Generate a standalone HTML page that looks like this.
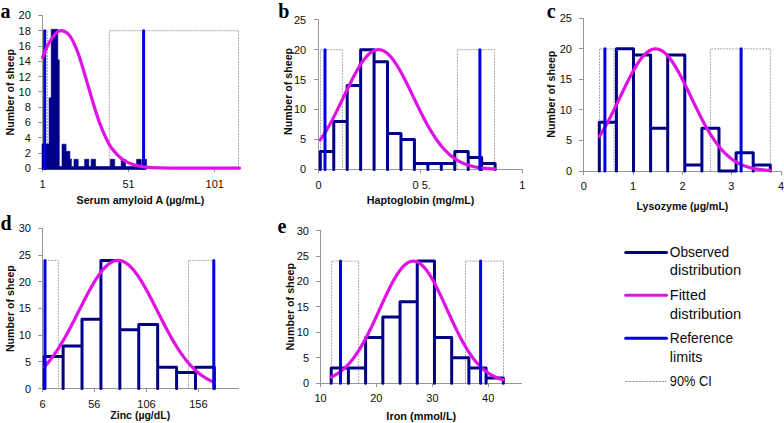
<!DOCTYPE html>
<html><head><meta charset="utf-8"><style>
html,body{margin:0;padding:0;background:#fff;}
body{width:784px;height:423px;overflow:hidden;}
svg{display:block;}
.t{font-family:"Liberation Sans",sans-serif;font-size:11px;fill:#0d0d0d;}
.b{font-family:"Liberation Sans",sans-serif;font-size:10.5px;font-weight:bold;fill:#0d0d0d;}
.g{font-family:"Liberation Sans",sans-serif;font-size:13.8px;fill:#0d0d0d;}
.L{font-family:"Liberation Serif",serif;font-size:20px;font-weight:bold;fill:#000;}
</style></head><body>
<svg width="784" height="423" viewBox="0 0 784 423">
<rect width="784" height="423" fill="#fff"/>
<text x="0.6" y="17.7" class="L">a</text>
<path d="M44.5,168.5 V30.71 H47.4 V168.5" fill="none" stroke="#a8a8a8" stroke-width="1" stroke-dasharray="2 1"/>
<path d="M109.3,168.5 V30.71 H238.5 V168.5" fill="none" stroke="#a8a8a8" stroke-width="1" stroke-dasharray="2 1"/>
<path d="M42.5,15 V172" stroke="#969696" stroke-width="1" fill="none"/>
<path d="M38,168.5 H240" stroke="#969696" stroke-width="1" fill="none"/>
<path d="M38,168.5 H42.5" stroke="#969696" stroke-width="1" fill="none"/>
<text x="30.8" y="172.4" text-anchor="end" class="t">0</text>
<path d="M38,153.5 H42.5" stroke="#969696" stroke-width="1" fill="none"/>
<text x="30.8" y="157.09" text-anchor="end" class="t">2</text>
<path d="M38,137.5 H42.5" stroke="#969696" stroke-width="1" fill="none"/>
<text x="30.8" y="141.78" text-anchor="end" class="t">4</text>
<path d="M38,122.5 H42.5" stroke="#969696" stroke-width="1" fill="none"/>
<text x="30.8" y="126.47" text-anchor="end" class="t">6</text>
<path d="M38,107.5 H42.5" stroke="#969696" stroke-width="1" fill="none"/>
<text x="30.8" y="111.16" text-anchor="end" class="t">8</text>
<path d="M38,91.5 H42.5" stroke="#969696" stroke-width="1" fill="none"/>
<text x="30.8" y="95.85" text-anchor="end" class="t">10</text>
<path d="M38,76.5 H42.5" stroke="#969696" stroke-width="1" fill="none"/>
<text x="30.8" y="80.54" text-anchor="end" class="t">12</text>
<path d="M38,61.5 H42.5" stroke="#969696" stroke-width="1" fill="none"/>
<text x="30.8" y="65.23" text-anchor="end" class="t">14</text>
<path d="M38,46.5 H42.5" stroke="#969696" stroke-width="1" fill="none"/>
<text x="30.8" y="49.92" text-anchor="end" class="t">16</text>
<path d="M38,30.5 H42.5" stroke="#969696" stroke-width="1" fill="none"/>
<text x="30.8" y="34.61" text-anchor="end" class="t">18</text>
<path d="M38,15.5 H42.5" stroke="#969696" stroke-width="1" fill="none"/>
<text x="30.8" y="19.3" text-anchor="end" class="t">20</text>
<path d="M42.5,168.5 V172" stroke="#969696" stroke-width="1" fill="none"/>
<text x="42.5" y="188" text-anchor="middle" class="t">1</text>
<path d="M128.5,168.5 V172" stroke="#969696" stroke-width="1" fill="none"/>
<text x="128.5" y="188" text-anchor="middle" class="t">51</text>
<path d="M214.5,168.5 V172" stroke="#969696" stroke-width="1" fill="none"/>
<text x="214.7" y="188" text-anchor="middle" class="t">101</text>
<text transform="translate(14.3,92.2) rotate(-90)" x="0" y="0" text-anchor="middle" class="b" textLength="86.4" lengthAdjust="spacingAndGlyphs">Number of sheep</text>
<text x="140.45" y="204.3" text-anchor="middle" class="b" textLength="127.7" lengthAdjust="spacingAndGlyphs">Serum amyloid A (&#181;g/mL)</text>
<path d="M42,169.5 L42,143.9 L49.1,143.9 L49.1,97.8 L51.2,97.8 L51.2,29.3 L57.8,29.3 L57.8,59.8 L59.3,59.8 L59.3,166.5 L62,166.5 L62,144.2 L66.1,144.2 L66.1,151.3 L69.9,151.3 L69.9,158.9 L71.4,158.9 L71.4,166.5 L74,166.5 L74,159.3 L78.2,159.3 L78.2,166.5 L84.6,166.5 L84.6,159.3 L88.8,159.3 L88.8,166.5 L91.1,166.5 L91.1,159.3 L95.6,159.3 L95.6,166.5 L110.3,166.5 L110.3,159.3 L114.7,159.3 L114.7,166.5 L121.2,166.5 L121.2,159.3 L125.5,159.3 L125.5,166.5 L136.6,166.5 L136.6,159.3 L141.2,159.3 L141.2,166.5 L142,166.5 L142,159.3 L146.5,159.3 L146.5,169.5 Z" fill="#000086" stroke="#000086" stroke-width="0.6" stroke-linejoin="round"/>
<line x1="44.7" y1="30.71" x2="44.7" y2="168.5" stroke="#0000e0" stroke-width="3" stroke-linecap="round"/>
<line x1="143.6" y1="30.71" x2="143.6" y2="168.5" stroke="#0000e0" stroke-width="3" stroke-linecap="round"/>
<path d="M42.5,57.5 C43.47,55.28 46.23,48.07 48.3,44.2 C50.37,40.33 52.7,36.57 54.9,34.3 C57.1,32.03 59.02,30.33 61.5,30.6 C63.98,30.87 67.03,32.12 69.8,35.9 C72.57,39.68 75.33,45.95 78.1,53.3 C80.87,60.65 83.95,71.92 86.4,80 C88.85,88.08 90.68,94.88 92.8,101.8 C94.92,108.72 96.98,115.63 99.1,121.5 C101.22,127.37 103.37,132.5 105.5,137 C107.63,141.5 109.05,144.75 111.9,148.5 C114.75,152.25 119.05,156.82 122.6,159.5 C126.15,162.18 129.67,163.37 133.2,164.6 C136.73,165.83 139.33,166.35 143.8,166.9 C148.27,167.45 150.63,167.7 160,167.9 C169.37,168.1 186.75,168.07 200,168.1 C213.25,168.13 232.92,168.1 239.5,168.1" fill="none" stroke="#e010e6" stroke-width="3.2" stroke-linecap="round" stroke-linejoin="round"/>
<text x="278.2" y="17.7" class="L">b</text>
<path d="M320.6,169.45 V49.65 H342.4 V169.45" fill="none" stroke="#a8a8a8" stroke-width="1" stroke-dasharray="2 1"/>
<path d="M457.4,169.45 V49.65 H494.5 V169.45" fill="none" stroke="#a8a8a8" stroke-width="1" stroke-dasharray="2 1"/>
<path d="M318.5,19 V173" stroke="#969696" stroke-width="1" fill="none"/>
<path d="M314,169.5 H523" stroke="#969696" stroke-width="1" fill="none"/>
<path d="M314,169.5 H318.5" stroke="#969696" stroke-width="1" fill="none"/>
<text x="306.2" y="173.35" text-anchor="end" class="t">0</text>
<path d="M314,139.5 H318.5" stroke="#969696" stroke-width="1" fill="none"/>
<text x="306.2" y="143.4" text-anchor="end" class="t">5</text>
<path d="M314,109.5 H318.5" stroke="#969696" stroke-width="1" fill="none"/>
<text x="306.2" y="113.45" text-anchor="end" class="t">10</text>
<path d="M314,79.5 H318.5" stroke="#969696" stroke-width="1" fill="none"/>
<text x="306.2" y="83.5" text-anchor="end" class="t">15</text>
<path d="M314,49.5 H318.5" stroke="#969696" stroke-width="1" fill="none"/>
<text x="306.2" y="53.55" text-anchor="end" class="t">20</text>
<path d="M314,19.5 H318.5" stroke="#969696" stroke-width="1" fill="none"/>
<text x="306.2" y="23.6" text-anchor="end" class="t">25</text>
<path d="M318.5,169.5 V173" stroke="#969696" stroke-width="1" fill="none"/>
<text x="318.5" y="188.6" text-anchor="middle" class="t">0</text>
<path d="M522.5,169.5 V173" stroke="#969696" stroke-width="1" fill="none"/>
<text x="522.4" y="188.6" text-anchor="middle" class="t">1</text>
<path d="M420.5,169.5 V173" stroke="#969696" fill="none"/>
<text x="421.8" y="188.6" text-anchor="middle" class="t">0 5.</text>
<text transform="translate(291.5,91.4) rotate(-90)" x="0" y="0" text-anchor="middle" class="b" textLength="87" lengthAdjust="spacingAndGlyphs">Number of sheep</text>
<text x="420.6" y="204.2" text-anchor="middle" class="b" textLength="107.7" lengthAdjust="spacingAndGlyphs">Haptoglobin (mg/mL)</text>
<path d="M320.3,169.45 V151.48 H333.75 V169.45 M333.75,169.45 V121.53 H347.19 V169.45 M347.19,169.45 V85.59 H360.64 V169.45 M360.64,169.45 V49.65 H374.08 V169.45 M374.08,169.45 V61.63 H387.53 V169.45 M387.53,169.45 V133.51 H400.98 V169.45 M400.98,169.45 V139.5 H414.42 V169.45 M414.42,169.45 V163.46 H427.87 V169.45 M427.87,169.45 V163.46 H441.32 V169.45 M441.32,169.45 V163.46 H454.76 V169.45 M454.76,169.45 V151.48 H468.21 V169.45 M468.21,169.45 V157.47 H481.65 V169.45 M481.65,169.45 V163.46 H495.1 V169.45 " fill="none" stroke="#000086" stroke-width="3" stroke-linejoin="round" stroke-linecap="round"/>
<path d="M320.3,139.86 L321.79,137.69 L323.29,135.42 L324.78,133.05 L326.28,130.6 L327.77,128.05 L329.26,125.42 L330.76,122.7 L332.25,119.91 L333.75,117.05 L335.24,114.13 L336.73,111.15 L338.23,108.12 L339.72,105.06 L341.22,101.97 L342.71,98.85 L344.2,95.73 L345.7,92.62 L347.19,89.52 L348.69,86.45 L350.18,83.42 L351.67,80.44 L353.17,77.53 L354.66,74.7 L356.16,71.96 L357.65,69.33 L359.14,66.82 L360.64,64.43 L362.13,62.19 L363.63,60.11 L365.12,58.18 L366.61,56.44 L368.11,54.87 L369.6,53.5 L371.1,52.33 L372.59,51.36 L374.08,50.61 L375.58,50.07 L377.07,49.75 L378.57,49.65 L380.06,49.77 L381.55,50.11 L383.05,50.67 L384.54,51.44 L386.04,52.43 L387.53,53.62 L389.02,55.01 L390.52,56.59 L392.01,58.35 L393.51,60.29 L395,62.39 L396.49,64.64 L397.99,67.04 L399.48,69.56 L400.98,72.2 L402.47,74.95 L403.96,77.79 L405.46,80.71 L406.95,83.69 L408.45,86.72 L409.94,89.8 L411.44,92.9 L412.93,96.01 L414.42,99.13 L415.92,102.24 L417.41,105.33 L418.91,108.39 L420.4,111.42 L421.89,114.39 L423.39,117.31 L424.88,120.16 L426.38,122.95 L427.87,125.65 L429.36,128.28 L430.86,130.82 L432.35,133.27 L433.85,135.63 L435.34,137.89 L436.83,140.05 L438.33,142.12 L439.82,144.09 L441.32,145.96 L442.81,147.73 L444.3,149.4 L445.8,150.98 L447.29,152.47 L448.79,153.87 L450.28,155.17 L451.77,156.4 L453.27,157.53 L454.76,158.59 L456.26,159.58 L457.75,160.49 L459.24,161.33 L460.74,162.11 L462.23,162.82 L463.73,163.48 L465.22,164.08 L466.71,164.63 L468.21,165.13 L469.7,165.59 L471.2,166 L472.69,166.38 L474.18,166.72 L475.68,167.02 L477.17,167.3 L478.67,167.55 L480.16,167.77 L481.65,167.97 L483.15,168.15 L484.64,168.31 L486.14,168.45 L487.63,168.57 L489.12,168.68 L490.62,168.78 L492.11,168.87 L493.61,168.95 L495.1,169.01" fill="none" stroke="#e010e6" stroke-width="3.2" stroke-linecap="round" stroke-linejoin="round"/>
<line x1="325" y1="49.65" x2="325" y2="169.45" stroke="#0000e0" stroke-width="3" stroke-linecap="round"/>
<line x1="479.9" y1="49.65" x2="479.9" y2="169.45" stroke="#0000e0" stroke-width="3" stroke-linecap="round"/>
<text x="546.7" y="17.8" class="L">c</text>
<path d="M599.5,171.1 V48.86 H614.1 V171.1" fill="none" stroke="#a8a8a8" stroke-width="1" stroke-dasharray="2 1"/>
<path d="M710.4,171.1 V48.86 H770.3 V171.1" fill="none" stroke="#a8a8a8" stroke-width="1" stroke-dasharray="2 1"/>
<path d="M583.5,18 V175" stroke="#969696" stroke-width="1" fill="none"/>
<path d="M579,171.5 H782" stroke="#969696" stroke-width="1" fill="none"/>
<path d="M579,171.5 H583.5" stroke="#969696" stroke-width="1" fill="none"/>
<text x="572" y="175" text-anchor="end" class="t">0</text>
<path d="M579,140.5 H583.5" stroke="#969696" stroke-width="1" fill="none"/>
<text x="572" y="144.44" text-anchor="end" class="t">5</text>
<path d="M579,109.5 H583.5" stroke="#969696" stroke-width="1" fill="none"/>
<text x="572" y="113.88" text-anchor="end" class="t">10</text>
<path d="M579,79.5 H583.5" stroke="#969696" stroke-width="1" fill="none"/>
<text x="572" y="83.32" text-anchor="end" class="t">15</text>
<path d="M579,48.5 H583.5" stroke="#969696" stroke-width="1" fill="none"/>
<text x="572" y="52.76" text-anchor="end" class="t">20</text>
<path d="M579,18.5 H583.5" stroke="#969696" stroke-width="1" fill="none"/>
<text x="572" y="22.2" text-anchor="end" class="t">25</text>
<path d="M583.5,171.5 V175" stroke="#969696" stroke-width="1" fill="none"/>
<text x="583.9" y="190.3" text-anchor="middle" class="t">0</text>
<path d="M633.5,171.5 V175" stroke="#969696" stroke-width="1" fill="none"/>
<text x="633.1" y="190.3" text-anchor="middle" class="t">1</text>
<path d="M682.5,171.5 V175" stroke="#969696" stroke-width="1" fill="none"/>
<text x="682.6" y="190.3" text-anchor="middle" class="t">2</text>
<path d="M731.5,171.5 V175" stroke="#969696" stroke-width="1" fill="none"/>
<text x="731.4" y="190.3" text-anchor="middle" class="t">3</text>
<path d="M781.5,171.5 V175" stroke="#969696" stroke-width="1" fill="none"/>
<text x="781" y="190.3" text-anchor="middle" class="t">4</text>
<text transform="translate(554.7,94.2) rotate(-90)" x="0" y="0" text-anchor="middle" class="b" textLength="87" lengthAdjust="spacingAndGlyphs">Number of sheep</text>
<text x="682.45" y="209.7" text-anchor="middle" class="b" textLength="91.8" lengthAdjust="spacingAndGlyphs">Lysozyme (&#181;g/mL)</text>
<path d="M599.3,171.1 V122.2 H616.4 V171.1 M616.4,171.1 V48.86 H633.5 V171.1 M633.5,171.1 V54.97 H650.6 V171.1 M650.6,171.1 V128.32 H667.7 V171.1 M667.7,171.1 V54.97 H684.8 V171.1 M684.8,171.1 V164.99 H701.9 V171.1 M701.9,171.1 V128.32 H719 V171.1 M719,171.1 V171.1 H736.1 V171.1 M736.1,171.1 V152.76 H753.2 V171.1 M753.2,171.1 V164.99 H770.3 V171.1 " fill="none" stroke="#000086" stroke-width="3" stroke-linejoin="round" stroke-linecap="round"/>
<path d="M599.3,136.59 L600.79,134.24 L602.27,131.79 L603.76,129.26 L605.25,126.65 L606.73,123.95 L608.22,121.18 L609.71,118.34 L611.2,115.44 L612.68,112.48 L614.17,109.47 L615.66,106.42 L617.14,103.34 L618.63,100.24 L620.12,97.13 L621.6,94.02 L623.09,90.92 L624.58,87.84 L626.07,84.79 L627.55,81.79 L629.04,78.85 L630.53,75.98 L632.01,73.19 L633.5,70.5 L634.99,67.92 L636.47,65.46 L637.96,63.13 L639.45,60.94 L640.93,58.91 L642.42,57.04 L643.91,55.35 L645.4,53.83 L646.88,52.51 L648.37,51.38 L649.86,50.46 L651.34,49.74 L652.83,49.23 L654.32,48.94 L655.8,48.86 L657.29,49 L658.78,49.35 L660.27,49.92 L661.75,50.69 L663.24,51.67 L664.73,52.86 L666.21,54.23 L667.7,55.8 L669.19,57.54 L670.67,59.45 L672.16,61.53 L673.65,63.76 L675.13,66.12 L676.62,68.62 L678.11,71.23 L679.6,73.95 L681.08,76.76 L682.57,79.65 L684.06,82.61 L685.54,85.62 L687.03,88.68 L688.52,91.77 L690,94.87 L691.49,97.99 L692.98,101.1 L694.47,104.19 L695.95,107.26 L697.44,110.3 L698.93,113.3 L700.41,116.24 L701.9,119.13 L703.39,121.95 L704.87,124.7 L706.36,127.38 L707.85,129.97 L709.33,132.47 L710.82,134.89 L712.31,137.22 L713.8,139.45 L715.28,141.59 L716.77,143.63 L718.26,145.58 L719.74,147.43 L721.23,149.18 L722.72,150.84 L724.2,152.41 L725.69,153.88 L727.18,155.27 L728.67,156.57 L730.15,157.79 L731.64,158.93 L733.13,159.99 L734.61,160.97 L736.1,161.89 L737.59,162.74 L739.07,163.52 L740.56,164.24 L742.05,164.9 L743.53,165.51 L745.02,166.07 L746.51,166.58 L748,167.05 L749.48,167.47 L750.97,167.86 L752.46,168.21 L753.94,168.52 L755.43,168.81 L756.92,169.07 L758.4,169.3 L759.89,169.51 L761.38,169.69 L762.87,169.86 L764.35,170.01 L765.84,170.14 L767.33,170.26 L768.81,170.37 L770.3,170.46" fill="none" stroke="#e010e6" stroke-width="3.2" stroke-linecap="round" stroke-linejoin="round"/>
<line x1="604.9" y1="48.86" x2="604.9" y2="171.1" stroke="#0000e0" stroke-width="3" stroke-linecap="round"/>
<line x1="741.1" y1="48.86" x2="741.1" y2="171.1" stroke="#0000e0" stroke-width="3" stroke-linecap="round"/>
<text x="0.6" y="229.9" class="L">d</text>
<path d="M44.3,388.6 V260.44 H58.4 V388.6" fill="none" stroke="#a8a8a8" stroke-width="1" stroke-dasharray="2 1"/>
<path d="M188.5,388.6 V260.44 H213.8 V388.6" fill="none" stroke="#a8a8a8" stroke-width="1" stroke-dasharray="2 1"/>
<path d="M42.5,228 V392" stroke="#969696" stroke-width="1" fill="none"/>
<path d="M38,388.5 H239" stroke="#969696" stroke-width="1" fill="none"/>
<path d="M38,388.5 H42.5" stroke="#969696" stroke-width="1" fill="none"/>
<text x="31" y="392.5" text-anchor="end" class="t">0</text>
<path d="M38,361.5 H42.5" stroke="#969696" stroke-width="1" fill="none"/>
<text x="31" y="365.8" text-anchor="end" class="t">5</text>
<path d="M38,335.5 H42.5" stroke="#969696" stroke-width="1" fill="none"/>
<text x="31" y="339.1" text-anchor="end" class="t">10</text>
<path d="M38,308.5 H42.5" stroke="#969696" stroke-width="1" fill="none"/>
<text x="31" y="312.4" text-anchor="end" class="t">15</text>
<path d="M38,281.5 H42.5" stroke="#969696" stroke-width="1" fill="none"/>
<text x="31" y="285.7" text-anchor="end" class="t">20</text>
<path d="M38,255.5 H42.5" stroke="#969696" stroke-width="1" fill="none"/>
<text x="31" y="259" text-anchor="end" class="t">25</text>
<path d="M38,228.5 H42.5" stroke="#969696" stroke-width="1" fill="none"/>
<text x="31" y="232.3" text-anchor="end" class="t">30</text>
<path d="M42.5,388.5 V392" stroke="#969696" stroke-width="1" fill="none"/>
<text x="42.5" y="408" text-anchor="middle" class="t">6</text>
<path d="M94.5,388.5 V392" stroke="#969696" stroke-width="1" fill="none"/>
<text x="94.3" y="408" text-anchor="middle" class="t">56</text>
<path d="M146.5,388.5 V392" stroke="#969696" stroke-width="1" fill="none"/>
<text x="146.5" y="408" text-anchor="middle" class="t">106</text>
<path d="M198.5,388.5 V392" stroke="#969696" stroke-width="1" fill="none"/>
<text x="198.4" y="408" text-anchor="middle" class="t">156</text>
<text transform="translate(14.3,308.65) rotate(-90)" x="0" y="0" text-anchor="middle" class="b" textLength="86.9" lengthAdjust="spacingAndGlyphs">Number of sheep</text>
<text x="140.25" y="418.7" text-anchor="middle" class="b" textLength="59.8" lengthAdjust="spacingAndGlyphs">Zinc (&#181;g/dL)</text>
<path d="M44.2,388.6 V356.56 H63.11 V388.6 M63.11,388.6 V345.88 H82.02 V388.6 M82.02,388.6 V319.18 H100.93 V388.6 M100.93,388.6 V260.44 H119.84 V388.6 M119.84,388.6 V329.86 H138.76 V388.6 M138.76,388.6 V324.52 H157.67 V388.6 M157.67,388.6 V367.24 H176.58 V388.6 M176.58,388.6 V372.58 H195.49 V388.6 M195.49,388.6 V367.24 H214.4 V388.6 " fill="none" stroke="#000086" stroke-width="3" stroke-linejoin="round" stroke-linecap="round"/>
<path d="M44.2,366.92 L45.69,365.33 L47.19,363.65 L48.68,361.89 L50.17,360.04 L51.66,358.12 L53.16,356.11 L54.65,354.02 L56.14,351.85 L57.64,349.59 L59.13,347.26 L60.62,344.86 L62.12,342.38 L63.61,339.83 L65.1,337.22 L66.59,334.54 L68.09,331.81 L69.58,329.02 L71.07,326.19 L72.57,323.32 L74.06,320.42 L75.55,317.49 L77.05,314.54 L78.54,311.58 L80.03,308.62 L81.52,305.67 L83.02,302.73 L84.51,299.82 L86,296.94 L87.5,294.11 L88.99,291.33 L90.48,288.61 L91.98,285.96 L93.47,283.4 L94.96,280.93 L96.45,278.56 L97.95,276.3 L99.44,274.17 L100.93,272.16 L102.43,270.29 L103.92,268.56 L105.41,266.98 L106.91,265.56 L108.4,264.31 L109.89,263.22 L111.38,262.31 L112.88,261.57 L114.37,261.02 L115.86,260.65 L117.36,260.46 L118.85,260.46 L120.34,260.65 L121.84,261.02 L123.33,261.57 L124.82,262.31 L126.31,263.22 L127.81,264.31 L129.3,265.57 L130.79,266.99 L132.29,268.56 L133.78,270.29 L135.27,272.17 L136.76,274.17 L138.26,276.31 L139.75,278.57 L141.24,280.94 L142.74,283.41 L144.23,285.97 L145.72,288.62 L147.22,291.33 L148.71,294.12 L150.2,296.95 L151.69,299.83 L153.19,302.74 L154.68,305.68 L156.17,308.63 L157.67,311.59 L159.16,314.55 L160.65,317.5 L162.15,320.43 L163.64,323.33 L165.13,326.2 L166.62,329.03 L168.12,331.82 L169.61,334.55 L171.1,337.23 L172.6,339.84 L174.09,342.39 L175.58,344.87 L177.08,347.27 L178.57,349.6 L180.06,351.85 L181.55,354.03 L183.05,356.12 L184.54,358.12 L186.03,360.05 L187.53,361.89 L189.02,363.65 L190.51,365.33 L192.01,366.93 L193.5,368.44 L194.99,369.88 L196.48,371.24 L197.98,372.53 L199.47,373.74 L200.96,374.88 L202.46,375.95 L203.95,376.95 L205.44,377.89 L206.94,378.77 L208.43,379.59 L209.92,380.35 L211.41,381.06 L212.91,381.72 L214.4,382.33" fill="none" stroke="#e010e6" stroke-width="3.2" stroke-linecap="round" stroke-linejoin="round"/>
<line x1="45" y1="260.44" x2="45" y2="388.6" stroke="#0000e0" stroke-width="3" stroke-linecap="round"/>
<line x1="213.8" y1="260.44" x2="213.8" y2="388.6" stroke="#0000e0" stroke-width="3" stroke-linecap="round"/>
<text x="277.6" y="232.8" class="L">e</text>
<path d="M331.6,383.2 V261.12 H358.6 V383.2" fill="none" stroke="#a8a8a8" stroke-width="1" stroke-dasharray="2 1"/>
<path d="M465.5,383.2 V261.12 H503.5 V383.2" fill="none" stroke="#a8a8a8" stroke-width="1" stroke-dasharray="2 1"/>
<path d="M320.5,230 V387" stroke="#969696" stroke-width="1" fill="none"/>
<path d="M316,383.5 H522" stroke="#969696" stroke-width="1" fill="none"/>
<path d="M316,383.5 H320.5" stroke="#969696" stroke-width="1" fill="none"/>
<text x="309" y="387.1" text-anchor="end" class="t">0</text>
<path d="M316,357.5 H320.5" stroke="#969696" stroke-width="1" fill="none"/>
<text x="309" y="361.67" text-anchor="end" class="t">5</text>
<path d="M316,332.5 H320.5" stroke="#969696" stroke-width="1" fill="none"/>
<text x="309" y="336.23" text-anchor="end" class="t">10</text>
<path d="M316,306.5 H320.5" stroke="#969696" stroke-width="1" fill="none"/>
<text x="309" y="310.8" text-anchor="end" class="t">15</text>
<path d="M316,281.5 H320.5" stroke="#969696" stroke-width="1" fill="none"/>
<text x="309" y="285.37" text-anchor="end" class="t">20</text>
<path d="M316,256.5 H320.5" stroke="#969696" stroke-width="1" fill="none"/>
<text x="309" y="259.93" text-anchor="end" class="t">25</text>
<path d="M316,230.5 H320.5" stroke="#969696" stroke-width="1" fill="none"/>
<text x="309" y="234.5" text-anchor="end" class="t">30</text>
<path d="M320.5,383.5 V387" stroke="#969696" stroke-width="1" fill="none"/>
<text x="320.5" y="402.2" text-anchor="middle" class="t">10</text>
<path d="M376.5,383.5 V387" stroke="#969696" stroke-width="1" fill="none"/>
<text x="376.3" y="402.2" text-anchor="middle" class="t">20</text>
<path d="M432.5,383.5 V387" stroke="#969696" stroke-width="1" fill="none"/>
<text x="432.4" y="402.2" text-anchor="middle" class="t">30</text>
<path d="M488.5,383.5 V387" stroke="#969696" stroke-width="1" fill="none"/>
<text x="488.2" y="402.2" text-anchor="middle" class="t">40</text>
<text transform="translate(293.7,306.65) rotate(-90)" x="0" y="0" text-anchor="middle" class="b" textLength="87.5" lengthAdjust="spacingAndGlyphs">Number of sheep</text>
<text x="421.3" y="419.6" text-anchor="middle" class="b" textLength="69.9" lengthAdjust="spacingAndGlyphs">Iron (mmol/L)</text>
<path d="M331.2,383.2 V367.94 H348.41 V383.2 M348.41,383.2 V367.94 H365.62 V383.2 M365.62,383.2 V337.42 H382.83 V383.2 M382.83,383.2 V317.07 H400.04 V383.2 M400.04,383.2 V301.81 H417.25 V383.2 M417.25,383.2 V261.12 H434.46 V383.2 M434.46,383.2 V337.42 H451.67 V383.2 M451.67,383.2 V357.77 H468.88 V383.2 M468.88,383.2 V367.94 H486.09 V383.2 M486.09,383.2 V378.11 H503.3 V383.2 " fill="none" stroke="#000086" stroke-width="3" stroke-linejoin="round" stroke-linecap="round"/>
<path d="M331.2,377.03 L332.7,376.33 L334.19,375.56 L335.69,374.73 L337.19,373.82 L338.68,372.83 L340.18,371.76 L341.68,370.61 L343.17,369.37 L344.67,368.04 L346.17,366.61 L347.66,365.09 L349.16,363.46 L350.65,361.73 L352.15,359.9 L353.65,357.95 L355.14,355.9 L356.64,353.74 L358.14,351.48 L359.63,349.11 L361.13,346.63 L362.63,344.05 L364.12,341.37 L365.62,338.6 L367.12,335.73 L368.61,332.79 L370.11,329.76 L371.61,326.67 L373.1,323.52 L374.6,320.31 L376.1,317.07 L377.59,313.79 L379.09,310.5 L380.59,307.2 L382.08,303.91 L383.58,300.65 L385.07,297.41 L386.57,294.23 L388.07,291.12 L389.56,288.08 L391.06,285.13 L392.56,282.3 L394.05,279.59 L395.55,277.02 L397.05,274.6 L398.54,272.34 L400.04,270.27 L401.54,268.38 L403.03,266.69 L404.53,265.21 L406.03,263.95 L407.52,262.91 L409.02,262.11 L410.52,261.54 L412.01,261.21 L413.51,261.12 L415.01,261.28 L416.5,261.67 L418,262.31 L419.49,263.18 L420.99,264.28 L422.49,265.6 L423.98,267.14 L425.48,268.88 L426.98,270.83 L428.47,272.96 L429.97,275.26 L431.47,277.72 L432.96,280.33 L434.46,283.08 L435.96,285.95 L437.45,288.92 L438.95,291.98 L440.45,295.11 L441.94,298.31 L443.44,301.56 L444.94,304.83 L446.43,308.12 L447.93,311.42 L449.43,314.71 L450.92,317.98 L452.42,321.21 L453.91,324.4 L455.41,327.54 L456.91,330.61 L458.4,333.62 L459.9,336.54 L461.4,339.38 L462.89,342.13 L464.39,344.78 L465.89,347.33 L467.38,349.78 L468.88,352.12 L470.38,354.36 L471.87,356.49 L473.37,358.51 L474.87,360.42 L476.36,362.22 L477.86,363.93 L479.36,365.52 L480.85,367.02 L482.35,368.42 L483.85,369.73 L485.34,370.94 L486.84,372.07 L488.33,373.11 L489.83,374.08 L491.33,374.97 L492.82,375.78 L494.32,376.53 L495.82,377.22 L497.31,377.84 L498.81,378.41 L500.31,378.93 L501.8,379.4 L503.3,379.82" fill="none" stroke="#e010e6" stroke-width="3.2" stroke-linecap="round" stroke-linejoin="round"/>
<line x1="340.5" y1="261.12" x2="340.5" y2="383.2" stroke="#0000e0" stroke-width="3" stroke-linecap="round"/>
<line x1="480.6" y1="261.12" x2="480.6" y2="383.2" stroke="#0000e0" stroke-width="3" stroke-linecap="round"/>
<line x1="625.7" y1="252.5" x2="666.5" y2="252.5" stroke="#000086" stroke-width="3" stroke-linecap="round"/>
<text x="669.8" y="256.8" class="g" textLength="59.4" lengthAdjust="spacingAndGlyphs">Observed</text>
<text x="669.8" y="275.3" class="g" textLength="71.3" lengthAdjust="spacingAndGlyphs">distribution</text>
<line x1="625.7" y1="295.3" x2="666.5" y2="295.3" stroke="#e010e6" stroke-width="3" stroke-linecap="round"/>
<text x="669.8" y="300" class="g" textLength="36.2" lengthAdjust="spacingAndGlyphs">Fitted</text>
<text x="669.8" y="318.5" class="g" textLength="71.3" lengthAdjust="spacingAndGlyphs">distribution</text>
<line x1="625.7" y1="338.3" x2="666.5" y2="338.3" stroke="#0000e0" stroke-width="3" stroke-linecap="round"/>
<text x="669.8" y="342.8" class="g" textLength="63.2" lengthAdjust="spacingAndGlyphs">Reference</text>
<text x="669.8" y="361.6" class="g" textLength="32.7" lengthAdjust="spacingAndGlyphs">limits</text>
<line x1="625.7" y1="381.5" x2="666.5" y2="381.5" stroke="#9a9a9a" stroke-width="1" stroke-linecap="butt" stroke-dasharray="2.5 0.8"/>
<text x="669.8" y="386.1" class="g" textLength="41.9" lengthAdjust="spacingAndGlyphs">90% CI</text>
</svg>
</body></html>
